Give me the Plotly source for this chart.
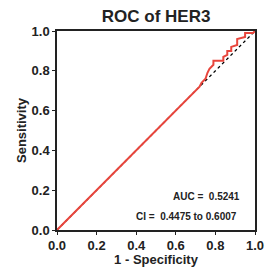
import plotly.graph_objects as go

# ROC curve data
fpr = [0.00, 0.08, 0.08, 0.16, 0.16, 0.24, 0.24, 0.32, 0.32, 0.40, 0.40, 0.48, 0.48, 0.56, 0.56,
       0.64, 0.64, 0.70, 0.72, 0.73, 0.74, 0.75, 0.76, 0.77, 0.79, 0.79, 0.84, 0.84, 0.86,
       0.86, 0.88, 0.88, 0.91, 0.91, 0.95, 0.95, 0.99, 1.00]
tpr = [0.00, 0.08, 0.085, 0.16, 0.165, 0.24, 0.245, 0.32, 0.325, 0.40, 0.405, 0.48, 0.485, 0.56, 0.565,
       0.64, 0.645, 0.70, 0.72, 0.74, 0.75, 0.76, 0.79, 0.81, 0.83, 0.85, 0.85, 0.87, 0.88,
       0.90, 0.90, 0.92, 0.93, 0.96, 0.97, 0.99, 0.99, 1.00]
ref_x = [0, 1]
ref_y = [0, 1]
ticks = [0.0, 0.2, 0.4, 0.6, 0.8, 1.0]
tick_labels = ["0.0", "0.2", "0.4", "0.6", "0.8", "1.0"]
auc_text = "AUC =  0.5241"
ci_text = "CI =  0.4475 to 0.6007"

fig = go.Figure()
fig.add_trace(go.Scatter(x=ref_x, y=ref_y, mode="lines",
                         line=dict(color="black", width=1.3, dash="dot"), hoverinfo="skip"))
fig.add_trace(go.Scatter(x=fpr, y=tpr, mode="lines",
                         line=dict(color="#e8453c", width=2)))

font = "Liberation Sans, Arial, sans-serif"
axis_common = dict(range=[0, 1], tickvals=ticks, ticktext=tick_labels,
                   ticks="outside", automargin=False,
                   ticklen=3, tickwidth=1.3, tickcolor="#222", showline=True,
                   linecolor="#222", linewidth=1.5, mirror=True, showgrid=False,
                   zeroline=False,
                   tickfont=dict(family=font, size=13, color="#222", weight="bold"))

fig.update_layout(
    width=265, height=259,
    margin=dict(l=49, r=18, t=23, b=37),
    paper_bgcolor="white", plot_bgcolor="white",
    showlegend=False,
    title=dict(text="ROC of HER3", x=0.559, xanchor="center", y=0.968, yanchor="middle",
               font=dict(family=font, size=17, color="#222", weight="bold")),
    xaxis=dict(**axis_common,
               title=dict(text="1 - Specificity", standoff=5,
                          font=dict(family=font, size=13, color="#222", weight="bold"))),
    yaxis=dict(**axis_common,
               title=dict(text="Sensitivity", standoff=2,
                          font=dict(family=font, size=13, color="#222", weight="bold"))),
)

fig.add_annotation(x=0.934, y=0.166, xref="x", yref="y", text=auc_text,
                   showarrow=False, xanchor="right", yanchor="middle",
                   font=dict(family=font, size=10, color="#222", weight="bold"))
fig.add_annotation(x=0.92, y=0.07, xref="x", yref="y", text=ci_text,
                   showarrow=False, xanchor="right", yanchor="middle",
                   font=dict(family=font, size=10, color="#222", weight="bold"))

fig.write_html("out.html")
